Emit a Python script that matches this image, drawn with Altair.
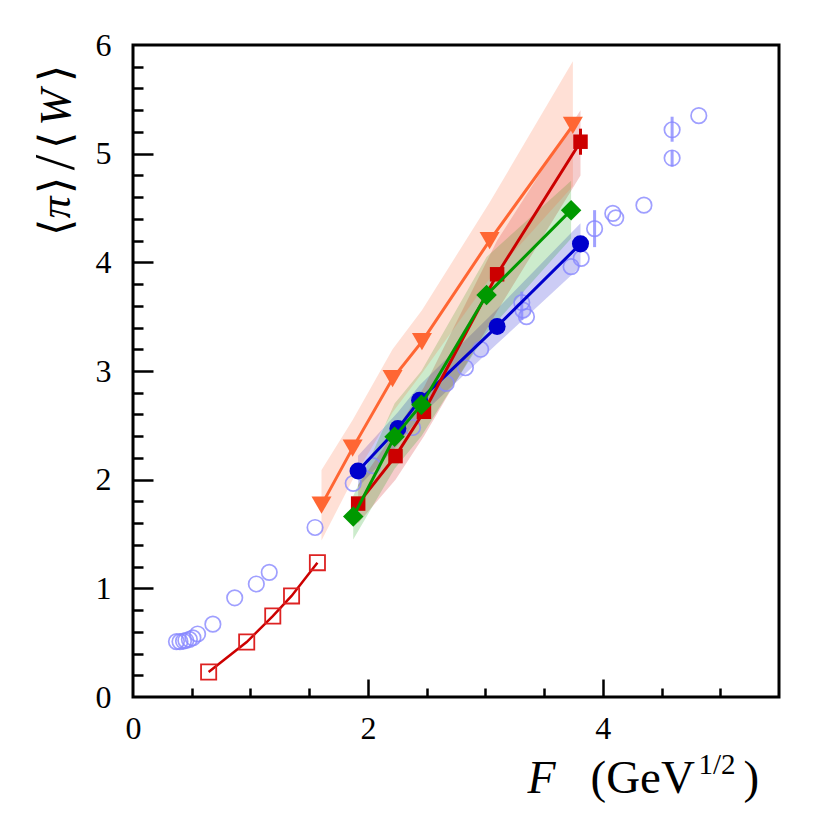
import altair as alt
import pandas as pd

# ---- open light-blue circles ----
oc_x = [0.37, 0.40, 0.43, 0.45, 0.48, 0.51, 0.55, 0.68, 0.866, 1.05, 1.16, 1.55,
        1.875, 2.04, 2.38, 2.667, 2.83, 2.96, 3.31, 3.32, 3.35, 3.73, 3.816,
        3.93, 4.085, 4.11, 4.35, 4.59, 4.59, 4.817]
oc_y = [0.51, 0.51, 0.515, 0.52, 0.53, 0.545, 0.58, 0.67, 0.913, 1.04, 1.147, 1.56,
        1.966, 2.13, 2.48, 2.886, 3.03, 3.20, 3.63, 3.56, 3.50, 3.96, 4.036,
        4.31, 4.45, 4.41, 4.526, 5.22, 4.96, 5.35]
ocerr_x = [3.31, 3.93, 4.59, 4.59]
ocerr_lo = [3.47, 4.14, 5.11, 4.88]
ocerr_hi = [3.73, 4.48, 5.34, 5.03]

# ---- open red squares ----
sq_x = [0.644, 0.968, 1.19, 1.35, 1.57]
sq_y = [0.23, 0.506, 0.745, 0.93, 1.236]

# ---- filled series with bands ----
blue_x = [1.916, 2.255, 2.44, 3.10, 3.81]
blue_y = [2.08, 2.47, 2.73, 3.41, 4.17]
blue_lo = [1.93, 2.32, 2.58, 3.25, 3.96]
blue_hi = [2.22, 2.62, 2.87, 3.57, 4.36]

red_x = [1.917, 2.235, 2.477, 3.10, 3.81]
red_y = [1.78, 2.217, 2.625, 3.89, 5.11]
red_lo = [1.60, 2.00, 2.40, 3.55, 4.80]
red_hi = [1.95, 2.45, 2.85, 4.20, 5.40]
red_err_x = [3.81]
red_err_lo = [4.99]
red_err_hi = [5.23]

green_x = [1.875, 2.227, 2.455, 3.01, 3.73]
green_y = [1.66, 2.395, 2.69, 3.70, 4.48]
green_lo = [1.45, 2.10, 2.40, 3.35, 4.22]
green_hi = [1.85, 2.70, 3.00, 4.05, 4.75]

orange_x = [1.605, 1.87, 2.21, 2.46, 3.036, 3.745]
orange_y = [1.766, 2.29, 2.93, 3.27, 4.20, 5.26]
orange_lo = [1.44, 2.00, 2.62, 2.98, 3.85, 4.70]
orange_hi = [2.09, 2.55, 3.20, 3.56, 4.55, 5.85]

x_major = [0, 2, 4]
x_minor = [0.5, 1, 1.5, 2.5, 3, 3.5, 4.5, 5]
x_major_ticks = [2, 4]
y_major = [0, 1, 2, 3, 4, 5, 6]
y_minor = [round(0.2 * i, 1) for i in range(1, 30) if i % 5 != 0]
y_major_ticks = [1, 2, 3, 4, 5]

FONT = "Liberation Serif"
xs = alt.Scale(domain=[0, 5.5], nice=False, zero=False)
ys = alt.Scale(domain=[0, 6], nice=False, zero=False)

series = [
    ("blue", "#0000cc", "circle", 290, blue_x, blue_y, blue_lo, blue_hi),
    ("red", "#cc0000", "square", 210, red_x, red_y, red_lo, red_hi),
    ("green", "#009900", "diamond", 420, green_x, green_y, green_lo, green_hi),
    ("orange", "#ff6633", "triangle-down", 400, orange_x, orange_y, orange_lo, orange_hi),
]

oc_df = pd.DataFrame({"x": oc_x, "y": oc_y})
ocerr_df = pd.DataFrame({"x": ocerr_x, "lo": ocerr_lo, "hi": ocerr_hi})
sq_df = pd.DataFrame({"x": sq_x, "y": sq_y})
rerr_df = pd.DataFrame({"x": red_err_x, "lo": red_err_lo, "hi": red_err_hi})

X = lambda f="x": alt.X(f"{f}:Q", scale=xs, axis=None)
Y = lambda f="y": alt.Y(f"{f}:Q", scale=ys, axis=None)

# plot-area origin on the page (left, top, bottom)
PL, PT, PB = 133, 45, 697


def xtitle(text, left, baseline, size, italic, off):
    d = dict(title=text, titleFont=FONT, titleFontSize=size, titleFontWeight="normal",
             titleColor="black", titleAlign="left", titleBaseline="alphabetic",
             titleX=left - PL, titleY=baseline - (PB + off))
    if italic:
        d["titleFontStyle"] = "italic"
    return d


def ytitle(text, center, size, italic, off):
    d = dict(title=text, titleFont=FONT, titleFontSize=size, titleFontWeight="normal",
             titleColor="black", titleAngle=270, titleAlign="center", titleBaseline="middle",
             titleX=56 - PL + off, titleY=center - PT)
    if italic:
        d["titleFontStyle"] = "italic"
    return d


layers = []

# main axes layer (labels + title pieces)
layers.append(alt.Chart(oc_df).mark_point(opacity=0).encode(
    x=alt.X("x:Q", scale=xs, axis=alt.Axis(
        orient="bottom", values=x_major, ticks=False, tickSize=0, domain=False, grid=False,
        labelFont=FONT, labelFontSize=32, labelColor="black", labelFlush=False,
        labelPadding=31, labelBaseline="middle",
        **xtitle("(GeV", 590, 792, 47, False, 0))),
    y=alt.Y("y:Q", scale=ys, axis=alt.Axis(
        orient="left", values=y_major, ticks=False, tickSize=0, domain=False, grid=False,
        labelFont=FONT, labelFontSize=32, labelColor="black", labelPadding=22,
        **ytitle("/", 162, 56, False, 0))),
))


def tick_axes(xv, yv, xl, yl, xt, yt):
    xa = dict(orient="bottom", offset=-xl, values=xv, tickSize=xl, tickWidth=2.5,
              tickColor="black", labels=False, domain=False, grid=False, **xt)
    ya = dict(orient="left", offset=-yl, values=yv, tickSize=yl, tickWidth=2.5,
              tickColor="black", labels=False, domain=False, grid=False, **yt)
    return alt.Chart(oc_df).mark_point(opacity=0).encode(
        x=alt.X("x:Q", scale=xs, axis=alt.Axis(**xa)),
        y=alt.Y("y:Q", scale=ys, axis=alt.Axis(**ya)),
    )


layers.append(tick_axes(x_minor, y_minor, 9, 10,
                        xtitle("F", 527, 792, 46, True, -9),
                        ytitle("π", 207, 44, True, -10)))
layers.append(tick_axes(x_major_ticks, y_major_ticks, 18, 20,
                        xtitle("1/2", 698, 773, 29, False, -18),
                        ytitle("W", 107, 44, True, -20)))


def title_axes(xt, yt):
    xa = dict(orient="bottom", values=[], ticks=False, labels=False, domain=False, grid=False, **xt)
    ya = dict(orient="left", values=[], ticks=False, labels=False, domain=False, grid=False, **yt)
    return alt.Chart(oc_df).mark_point(opacity=0).encode(
        x=alt.X("x:Q", scale=xs, axis=alt.Axis(**xa)),
        y=alt.Y("y:Q", scale=ys, axis=alt.Axis(**ya)),
    )


layers.append(title_axes(xtitle(")", 743, 792, 47, False, 0), ytitle("⟨", 227, 44, False, 0)))
layers.append(title_axes(dict(title=None), ytitle("⟩", 185, 44, False, 0)))
layers.append(title_axes(dict(title=None), ytitle("⟨", 140, 44, False, 0)))
layers.append(title_axes(dict(title=None), ytitle("⟩", 73, 44, False, 0)))

# bands
for name, col, shp, size, sx, sy, slo, shi in series:
    bdf = pd.DataFrame({"x": sx, "lo": slo, "hi": shi})
    layers.append(alt.Chart(bdf).mark_area(color=col, opacity=0.2).encode(
        x=X(), y=Y("lo"), y2="hi:Q"))

# open circles
layers.append(alt.Chart(ocerr_df).mark_rule(color="#8888ff", strokeWidth=3, opacity=0.8).encode(
    x=X(), y=Y("lo"), y2="hi:Q"))
layers.append(alt.Chart(oc_df).mark_point(shape="circle", filled=False, size=240,
                                          strokeWidth=1.7, color="#8888ff", opacity=0.8).encode(
    x=X(), y=Y()))

# open squares
layers.append(alt.Chart(sq_df).mark_line(color="#cc0000", strokeWidth=2.5).encode(x=X(), y=Y()))
layers.append(alt.Chart(sq_df).mark_point(shape="square", filled=False, size=230,
                                          strokeWidth=1.8, color="#dd2222", opacity=1).encode(
    x=X(), y=Y()))

# filled series
for name, col, shp, size, sx, sy, slo, shi in series:
    sdf = pd.DataFrame({"x": sx, "y": sy})
    layers.append(alt.Chart(sdf).mark_line(color=col, strokeWidth=3).encode(x=X(), y=Y()))
    layers.append(alt.Chart(sdf).mark_point(shape=shp, filled=True, size=size, color=col,
                                            opacity=1).encode(x=X(), y=Y()))
    if name == "red":
        layers.append(alt.Chart(rerr_df).mark_rule(color=col, strokeWidth=3).encode(
            x=X(), y=Y("lo"), y2="hi:Q"))

chart = alt.layer(*layers).resolve_axis(x="independent", y="independent").properties(
    width=646, height=652,
    autosize=alt.AutoSizeParams(type="none"),
    padding={"left": 125, "top": 37, "right": 20, "bottom": 130},
    background="white",
).configure_view(stroke="black", strokeWidth=3)

chart.save("out.html", embed_options={"renderer": "svg", "actions": False})
